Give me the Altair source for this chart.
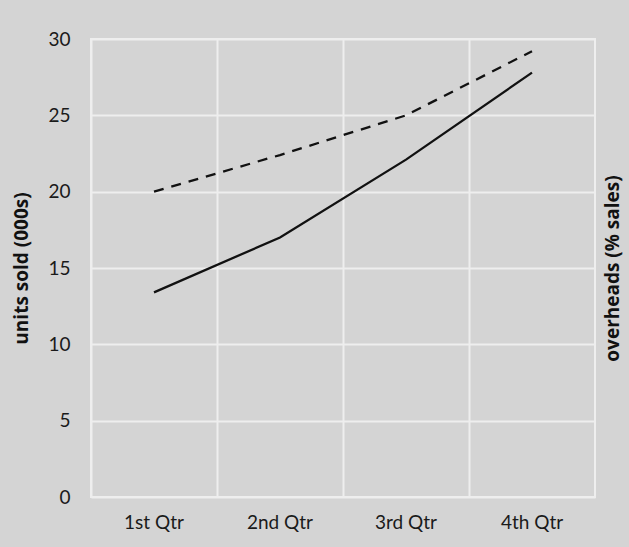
import altair as alt
import pandas as pd

quarters = ["1st Qtr", "2nd Qtr", "3rd Qtr", "4th Qtr"]
units_sold = [13.4, 17.0, 22.1, 27.8]
overheads = [20.0, 22.4, 25.0, 29.2]

df_units = pd.DataFrame({"quarter": quarters, "value": units_sold})
df_over = pd.DataFrame({"quarter": quarters, "value": overheads})

BG = "#d4d4d4"
GRID = "#eeeeee"
LABEL_FONT = "Lato"
TITLE_FONT = "Open Sans"

xscale = alt.Scale(type="band", paddingInner=0, paddingOuter=0)
yscale = alt.Scale(domain=[0, 30])

solid = alt.Chart(df_units).mark_line(color="#111111", strokeWidth=2.3).encode(
    x=alt.X("quarter:N", sort=quarters, scale=xscale, bandPosition=0.5,
            axis=alt.Axis(title=None, grid=False, domain=False, ticks=False,
                          labelAngle=0, labelFont=LABEL_FONT, labelFontSize=19,
                          labelColor="#1a1a1a", labelPadding=16)),
    y=alt.Y("value:Q", scale=yscale,
            axis=alt.Axis(title="units sold (000s)", values=[0, 5, 10, 15, 20, 25, 30],
                          grid=True, gridColor=GRID, gridWidth=2,
                          domain=False, ticks=False,
                          labelFont=LABEL_FONT, labelFontSize=19, labelColor="#1a1a1a",
                          labelPadding=21,
                          titleFont=TITLE_FONT, titleFontSize=19, titleFontWeight="bold",
                          titleColor="#111111", titlePadding=16)),
)

dashed = alt.Chart(df_over).mark_line(color="#111111", strokeWidth=2.3, strokeDash=[10, 8]).encode(
    x=alt.X("quarter:N", sort=quarters, scale=xscale, bandPosition=0.5,
            axis=alt.Axis(title=None, grid=True, gridColor=GRID, gridWidth=2,
                          bandPosition=0, labels=False, domain=False, ticks=False,
                          orient="top")),
    y=alt.Y("value:Q", scale=yscale,
            axis=alt.Axis(title="overheads (% sales)", orient="right", grid=False,
                          labels=False, domain=False, ticks=False,
                          titleAngle=270, titleBaseline="bottom",
                          titleFont=TITLE_FONT, titleFontSize=19, titleFontWeight="bold",
                          titleColor="#111111", titlePadding=27)),
)

chart = alt.layer(dashed, solid).resolve_axis(x="independent", y="independent").properties(
    width=504,
    height=458,
    autosize=alt.AutoSizeParams(type="none"),
    padding={"left": 91, "top": 39, "right": 34, "bottom": 50},
    background=BG,
).configure_view(fill=BG, stroke=GRID, strokeWidth=2)

chart.save("out.html", embed_options={"renderer": "svg", "actions": False})
